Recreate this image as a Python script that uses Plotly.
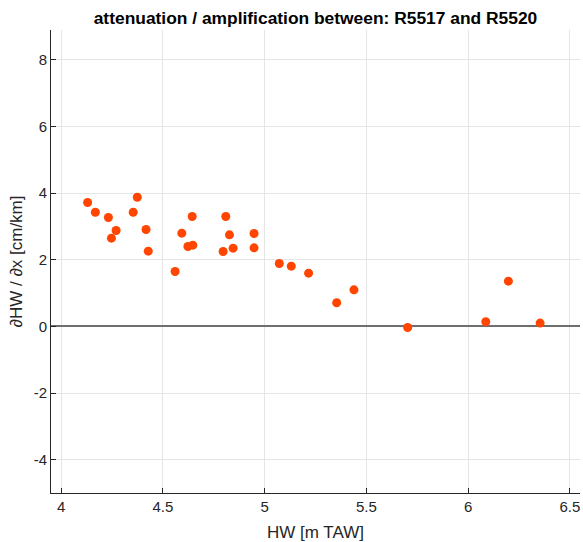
import plotly.graph_objects as go

hw = [4.130, 4.168, 4.232, 4.270, 4.247, 4.354, 4.374, 4.417, 4.428, 4.560,
      4.593, 4.644, 4.623, 4.647, 4.796, 4.809, 4.827, 4.845, 4.948, 4.948,
      5.072, 5.131, 5.216, 5.354, 5.439, 5.703, 6.087, 6.198, 6.354]
grad = [3.72, 3.43, 3.27, 2.88, 2.65, 3.43, 3.88, 2.91, 2.26, 1.65,
        2.80, 3.30, 2.40, 2.44, 2.25, 3.30, 2.75, 2.35, 2.79, 2.36,
        1.89, 1.81, 1.60, 0.71, 1.10, -0.03, 0.14, 1.36, 0.10]

x_ticks = [4, 4.5, 5, 5.5, 6, 6.5]
x_tick_labels = ["4", "4.5", "5", "5.5", "6", "6.5"]
y_ticks = [-4, -2, 0, 2, 4, 6, 8]
y_tick_labels = ["-4", "-2", "0", "2", "4", "6", "8"]

title_text = "attenuation / amplification between: R5517 and R5520"
x_label = "HW [m TAW]"
y_label = "∂HW / ∂x [cm/km]"

font_family = "Liberation Sans, Arial, Helvetica, sans-serif"
axis_col = "#262626"

fig = go.Figure()
fig.add_trace(go.Scatter(
    x=hw, y=grad, mode="markers",
    marker=dict(color="#FF4500", size=9, line=dict(width=0)),
    showlegend=False,
))

common = dict(
    showgrid=True, gridcolor="#e5e5e5", gridwidth=1,
    showline=True, linecolor=axis_col, linewidth=1,
    ticks="inside", ticklen=5, tickcolor=axis_col,
    tickfont=dict(family=font_family, size=15, color=axis_col),
    mirror=False, automargin=False,
)

fig.update_layout(
    width=583, height=542,
    paper_bgcolor="white", plot_bgcolor="white",
    margin=dict(l=51, r=3, t=30, b=49),
    title=dict(text="<b>" + title_text + "</b>", x=(51 + 580) / 2 / 583, xanchor="center",
               y=1 - 18 / 542, yanchor="middle",
               font=dict(family=font_family, size=17.4, color="black")),
    xaxis=dict(range=[3.95, 6.55], tickvals=x_ticks, ticktext=x_tick_labels,
               zeroline=False,
               title=dict(text=x_label, standoff=12,
                          font=dict(family=font_family, size=17, color=axis_col)),
               **common),
    yaxis=dict(range=[-5, 8.9], tickvals=y_ticks, ticktext=y_tick_labels,
               zeroline=True, zerolinecolor="#6e6e6e", zerolinewidth=1.5,
               title=dict(text=y_label, standoff=6,
                          font=dict(family=font_family, size=17, color=axis_col)),
               **common),
)

fig.write_html("out.html",
               config={"displayModeBar": False},
               post_script="document.body.style.margin='0';document.body.style.padding='0';")
